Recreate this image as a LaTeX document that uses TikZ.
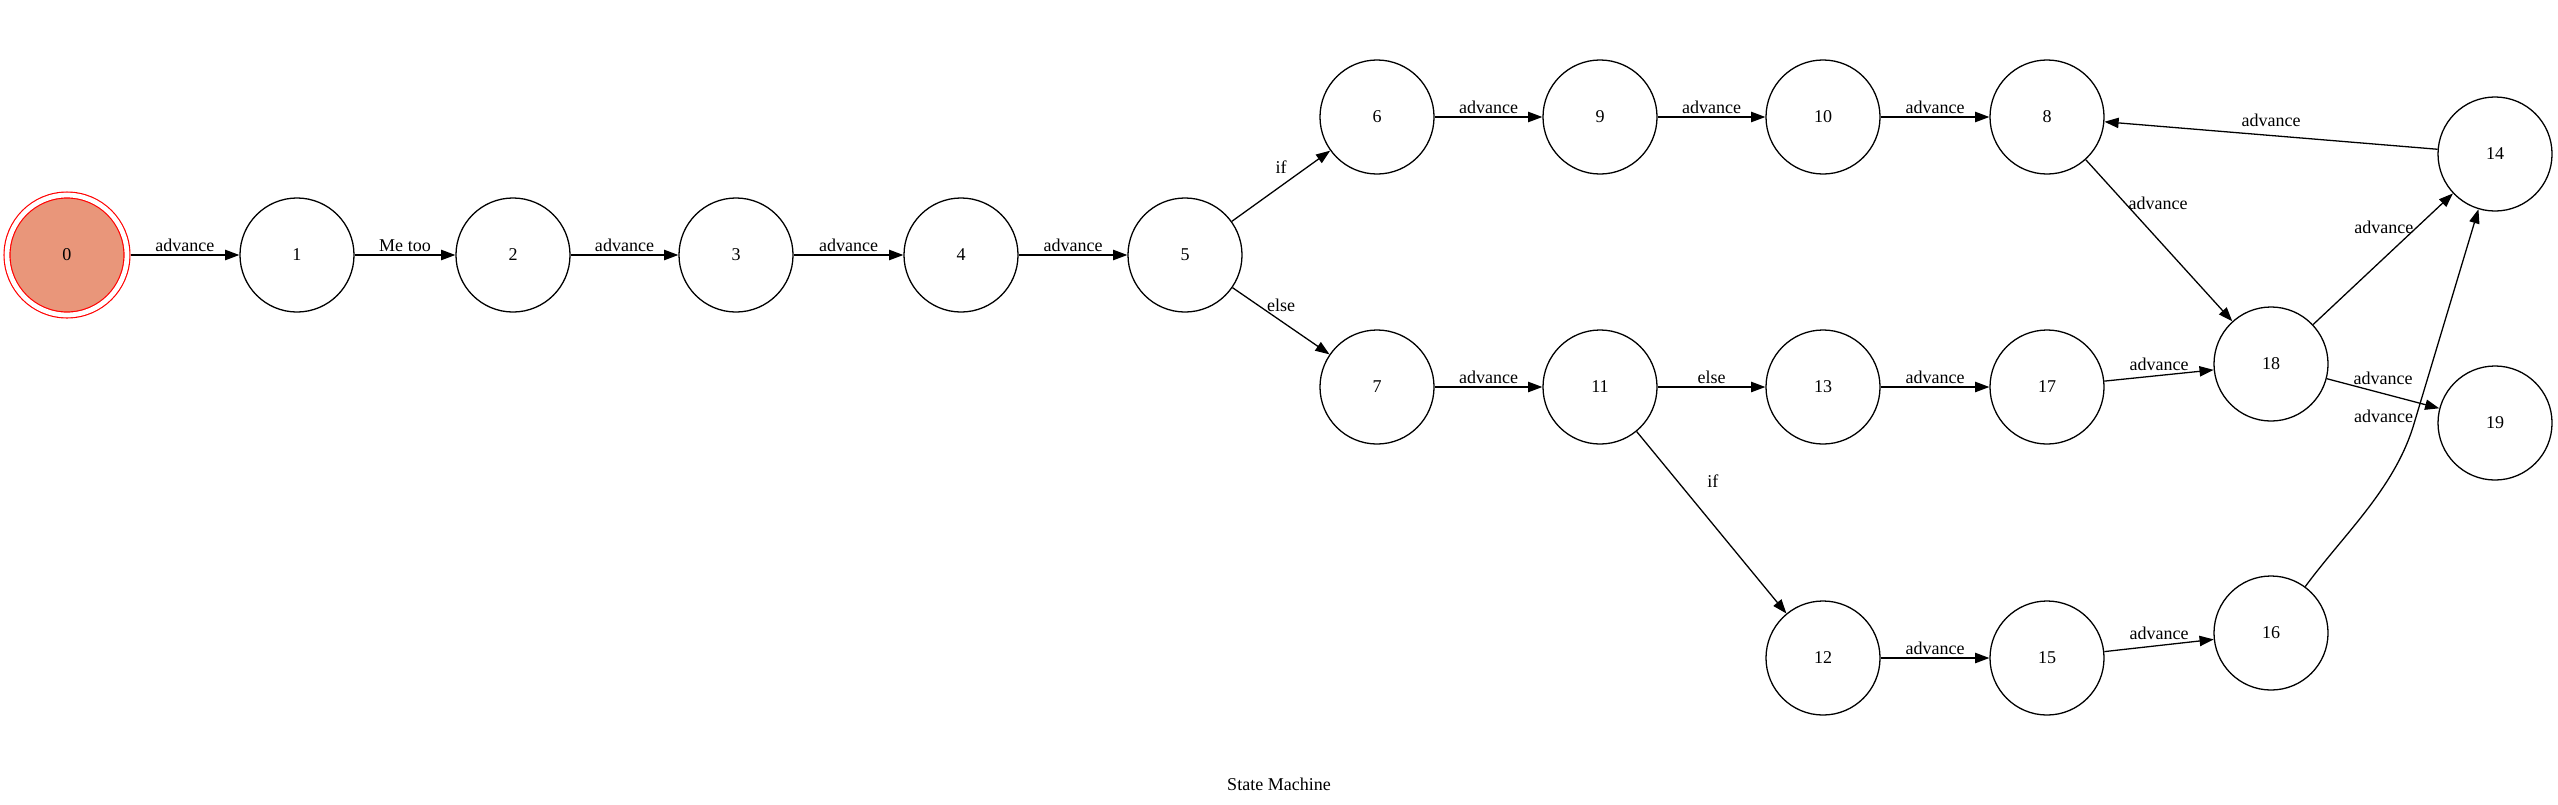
\documentclass[tikz,border=0pt]{standalone}
\usepackage{fontspec}
\setmainfont{Liberation Serif}
\usetikzlibrary{arrows.meta}
\definecolor{startfill}{RGB}{233,150,122}
\begin{document}
\begin{tikzpicture}[x=0.777pt, y=-0.777pt, line width=1pt,
    >={Triangle[length=11pt,width=8pt]},
    every node/.style={font=\fontsize{14}{16}\selectfont},
    state/.style={circle, draw, minimum size=88.6pt, inner sep=0pt},
    lbl/.style={inner sep=2pt}]
    \useasboundingbox (0,0) rectangle (2558,804);
\node[circle, draw=red, double=white, double distance=3.7pt, line width=0.9pt,
      fill=startfill, minimum size=93.2pt, inner sep=0pt, outer sep=2.75pt] (s0) at (67,255) {0};
\node[state] (s1) at (297,255) {1};
\node[state] (s2) at (513,255) {2};
\node[state] (s3) at (736,255) {3};
\node[state] (s4) at (961,255) {4};
\node[state] (s5) at (1185,255) {5};
\node[state] (s6) at (1377,117) {6};
\node[state] (s9) at (1600,117) {9};
\node[state] (s10) at (1823,117) {10};
\node[state] (s8) at (2047,117) {8};
\node[state] (s14) at (2495,154) {14};
\node[state] (s7) at (1377,387) {7};
\node[state] (s11) at (1600,387) {11};
\node[state] (s13) at (1823,387) {13};
\node[state] (s17) at (2047,387) {17};
\node[state] (s18) at (2271,364) {18};
\node[state] (s19) at (2495,423) {19};
\node[state] (s12) at (1823,658) {12};
\node[state] (s15) at (2047,658) {15};
\node[state] (s16) at (2271,633) {16};
\node[anchor=base] (title) at (1279,790) {State Machine};
    \draw[->] (s0) -- node[lbl, above] {advance} (s1);
    \draw[->] (s1) -- node[lbl, above] {Me too} (s2);
    \draw[->] (s2) -- node[lbl, above] {advance} (s3);
    \draw[->] (s3) -- node[lbl, above] {advance} (s4);
    \draw[->] (s4) -- node[lbl, above] {advance} (s5);
    \draw[->] (s5) -- node[lbl, above=7pt] {if} (s6);
    \draw[->] (s5) -- node[lbl, above=5pt] {else} (s7);
    \draw[->] (s6) -- node[lbl, above] {advance} (s9);
    \draw[->] (s9) -- node[lbl, above] {advance} (s10);
    \draw[->] (s10) -- node[lbl, above] {advance} (s8);
    \draw[->] (s7) -- node[lbl, above] {advance} (s11);
    \draw[->] (s11) -- node[lbl, above] {else} (s13);
    \draw[->] (s13) -- node[lbl, above] {advance} (s17);
    \draw[->] (s11) -- node[lbl, pos=0.27, right=21pt] {if} (s12);
    \draw[->] (s12) -- node[lbl, above] {advance} (s15);
    \draw[->] (s15) -- node[lbl, above=2pt] {advance} (s16);
    \draw[->] (s17) -- node[lbl, above=1pt] {advance} (s18);
    \draw[->] (s8) -- node[lbl, pos=0.27, right] {advance} (s18);
    \draw[->] (s18) -- node[lbl, pos=0.74, left] {advance} (s14);
    \draw[->] (s18) -- node[lbl, above=4.5pt] {advance} (s19);
    \draw[->] (s14) -- node[lbl, above=4pt] {advance} (s8);
    \draw[->] (s16) .. controls (2344,534) and (2393,490) .. (2413,427)
        -- node[lbl, pos=0.05, left] {advance} (s14);
\end{tikzpicture}
\end{document}
